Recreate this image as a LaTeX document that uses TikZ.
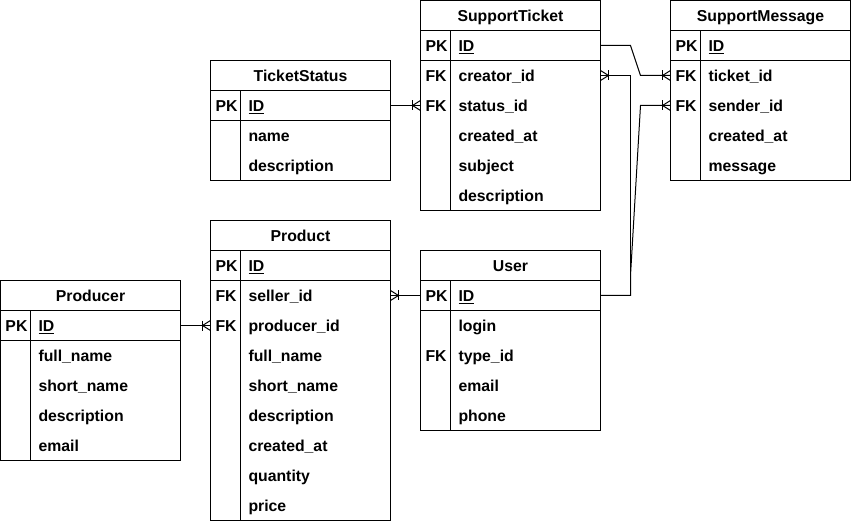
\documentclass[tikz,border=0pt]{standalone}
\usepackage{fontspec}
\setmainfont{Liberation Sans}
\usetikzlibrary{calc}
\tikzset{
  erfont/.style={font=\fontsize{15.8}{19}\selectfont\bfseries, inner sep=0pt, outer sep=0pt},
  rowbox/.style={draw=none, minimum width=180pt, minimum height=30pt, inner sep=0pt, outer sep=0pt},
  erline/.style={line width=1pt, black},
  conn/.style={line width=1pt, black},
}
\newcommand\ertable[5]{% #1 name/title, #2 x left, #3 y top, #4 number of rows, #5 rows
  \node[erfont, anchor=base] (#1) at ({#2+90},{#3+21}) {#1};
  \foreach \k/\f [count=\i] in {#5} {
    \node[rowbox] (#1-\i) at ({#2+90},{#3+15+30*\i}) {};
    \node[erfont, anchor=base west] (#1-\i-k) at ({#2+5},{#3+21+30*\i}) {\k};
    \node[erfont, anchor=base west] (#1-\i-f) at ({#2+38},{#3+21+30*\i}) {\f};
  }
  \draw[erline] (#2,#3) rectangle ({#2+180},{#3+30+30*#4});
  \draw[erline] (#2,{#3+30}) -- ({#2+180},{#3+30});
  \draw[erline] (#2,{#3+60}) -- ({#2+180},{#3+60});
  \draw[erline] ({#2+30},{#3+30}) -- ({#2+30},{#3+30+30*#4});
}
% crow's foot (one-or-many); box lies to the right of the point
\newcommand\crowR[1]{%
  \draw[conn] ($(#1)+(-8,-5)$) -- ++(0,10);
  \draw[conn] ($(#1)+(0,-5)$) -- ++(-8,5) -- ++(8,5);
}
% box lies to the left of the point
\newcommand\crowL[1]{%
  \draw[conn] ($(#1)+(8,-5)$) -- ++(0,10);
  \draw[conn] ($(#1)+(0,-5)$) -- ++(8,5) -- ++(-8,5);
}
\begin{document}
\begin{tikzpicture}[x=1pt,y=-1pt]
\useasboundingbox (-0.5,-0.5) rectangle (850.5,520.5);

\ertable{TicketStatus}{210}{60}{3}{PK/{\underline{ID}}, /name, /description}
\ertable{SupportTicket}{420}{0}{6}{PK/{\underline{ID}}, FK/creator\_id, FK/status\_id, /created\_at, /subject, /description}
\ertable{SupportMessage}{670}{0}{5}{PK/{\underline{ID}}, FK/ticket\_id, FK/sender\_id, /created\_at, /message}
\ertable{Product}{210}{220}{9}{PK/{\underline{ID}}, FK/seller\_id, FK/producer\_id, /full\_name, /short\_name, /description, /created\_at, /quantity, /price}
\ertable{User}{420}{250}{5}{PK/{\underline{ID}}, /login, FK/type\_id, /email, /phone}
\ertable{Producer}{0}{280}{5}{PK/{\underline{ID}}, /full\_name, /short\_name, /description, /email}

% SupportTicket.ID -> SupportMessage.ticket_id
\draw[conn] (SupportTicket-1.east) -- ++(30,0) -- ($(SupportMessage-2.west)+(-30,0)$) -- (SupportMessage-2.west);
\crowR{SupportMessage-2.west}
% User.ID -> SupportTicket.creator_id
\draw[conn] (User-1.east) -| ($(SupportTicket-2.east)+(30,0)$) -- (SupportTicket-2.east);
\crowL{SupportTicket-2.east}
% User.ID -> SupportMessage.sender_id
\draw[conn] (User-1.east) -- ++(30,0) -- ++(0,-20) -- ($(SupportMessage-3.west)+(-30,0)$) -- (SupportMessage-3.west);
\crowR{SupportMessage-3.west}
% TicketStatus.ID -> SupportTicket.status_id
\draw[conn] (TicketStatus-1.east) -- (SupportTicket-3.west);
\crowR{SupportTicket-3.west}
% User.ID -> Product.seller_id
\draw[conn] (User-1.west) -- (Product-2.east);
\crowL{Product-2.east}
% Producer.ID -> Product.producer_id
\draw[conn] (Producer-1.east) -- (Product-3.west);
\crowR{Product-3.west}
\end{tikzpicture}
\end{document}
